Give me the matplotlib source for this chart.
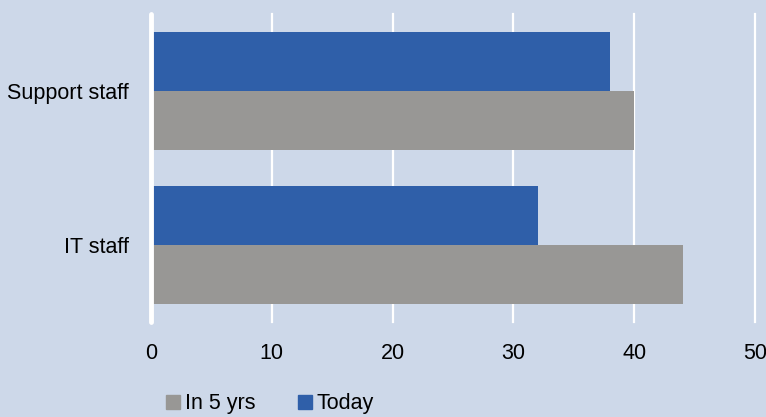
import matplotlib
matplotlib.use("Agg")
import matplotlib.pyplot as plt
from matplotlib.patches import Patch
import numpy as np

plt.rcParams['font.family'] = ['Liberation Sans', 'DejaVu Sans']

categories = ["Support staff", "IT staff"]
today = [38, 32]
in_5_yrs = [40, 44]
series_names = ["In 5 yrs", "Today"]
x_ticks = [0, 10, 20, 30, 40, 50]

bg = "#CDD8E9"
blue = "#2F5FA9"
gray = "#989795"
fs = 15.5

fig = plt.figure(figsize=(7.66, 4.17), dpi=100, facecolor=bg)
ax = fig.add_axes([151 / 766, 1 - 322 / 417, 604 / 766, 308 / 417], facecolor=bg)

y = np.arange(len(categories))
h = 0.383
ax.barh(y - h / 2, today, height=h, color=blue, zorder=2)
ax.barh(y + h / 2, in_5_yrs, height=h, color=gray, zorder=2)

ax.set_xlim(0, 50)
ax.set_ylim(1.5, -0.5)
ax.set_xticks(x_ticks)
ax.set_xticklabels([str(t) for t in x_ticks])
ax.set_yticks(y)
ax.set_yticklabels(categories)

for t in x_ticks[1:]:
    ax.axvline(t, color="white", lw=1.6, zorder=1, clip_on=False)
ax.axvline(0, color="white", lw=3.5, zorder=3, clip_on=False, solid_capstyle="round")

for s in ax.spines.values():
    s.set_visible(False)
ax.tick_params(axis="both", length=0, labelsize=fs, colors="#000000")
ax.tick_params(axis="x", pad=15)
ax.tick_params(axis="y", pad=16)

handles = [Patch(color=gray), Patch(color=blue)]
fig.legend(handles, series_names, loc="center", ncol=2, frameon=False,
           bbox_to_anchor=(((166 + 374) / 2) / 766, 1 - 404 / 417),
           fontsize=fs, handlelength=0.65, handleheight=0.65,
           handletextpad=0.25, columnspacing=1.95, borderpad=0)

fig.savefig("out.png", dpi=100, facecolor=bg)
